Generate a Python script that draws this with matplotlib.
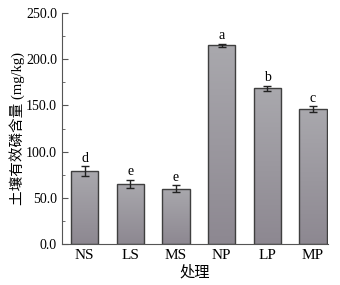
import numpy as np
import matplotlib.pyplot as plt
from matplotlib.ticker import MultipleLocator

plt.rcParams['font.family'] = ['Liberation Serif', 'Noto Sans CJK SC']

groups = ['NS', 'LS', 'MS', 'NP', 'LP', 'MP']
values = [79.0, 65.0, 60.0, 215.0, 168.5, 146.0]
errors = [5.5, 4.5, 3.5, 1.8, 3.0, 3.5]
letters = ['d', 'e', 'e', 'a', 'b', 'c']

fig = plt.figure(figsize=(3.4, 2.85), dpi=100)
ax = fig.add_axes([0.182, 0.144, 0.783, 0.81])

x = np.arange(len(groups))
bars = ax.bar(x, values, width=0.6, color='#9d9ba1', edgecolor='#3f3f3f',
              linewidth=1.0, zorder=2)

# vertical gray gradient inside each bar
cmap = plt.matplotlib.colors.LinearSegmentedColormap.from_list('g', ['#8d8891', '#a9a8ad'])
grad = np.linspace(0, 1, 100).reshape(-1, 1)
for b in bars:
    x0, y0 = b.get_x(), b.get_y()
    w, h = b.get_width(), b.get_height()
    im = ax.imshow(grad, extent=[x0, x0 + w, y0, y0 + h], origin='lower',
                   aspect='auto', cmap=cmap, zorder=2.5)
    im.set_clip_path(b)
    b.set_facecolor('none')
    b.set_zorder(3)

ax.errorbar(x, values, yerr=errors, fmt='none', ecolor='#222222',
            elinewidth=1.0, capsize=3, capthick=1.0, zorder=4)

for xi, v, e, t in zip(x, values, errors, letters):
    ax.text(xi, v + e + 1.5, t, ha='center', va='bottom', fontsize=10)

ax.set_xlim(-0.5, 5.33)
ax.set_ylim(0, 250)
ax.set_xticks(x)
ax.set_xticklabels(groups, fontsize=11)
ax.set_yticks(np.arange(0, 251, 50))
ax.set_yticklabels(['%.1f' % t for t in np.arange(0, 251, 50)], fontsize=10)
ax.yaxis.set_minor_locator(MultipleLocator(25))
ax.tick_params(axis='both', which='both', direction='in', color='#555555')
ax.tick_params(axis='y', which='major', length=4)
ax.tick_params(axis='y', which='minor', length=2.5)
ax.tick_params(axis='x', length=3)
ax.spines['top'].set_visible(False)
ax.spines['right'].set_visible(False)
for s in ['left', 'bottom']:
    ax.spines[s].set_color('#555555')

ax.set_xlabel('处理', fontsize=11, labelpad=2, fontweight='light')
ax.set_ylabel('土壤有效磷含量 (mg/kg)', fontsize=10.5, labelpad=1, fontweight='light')

fig.savefig('out.png', dpi=100)
